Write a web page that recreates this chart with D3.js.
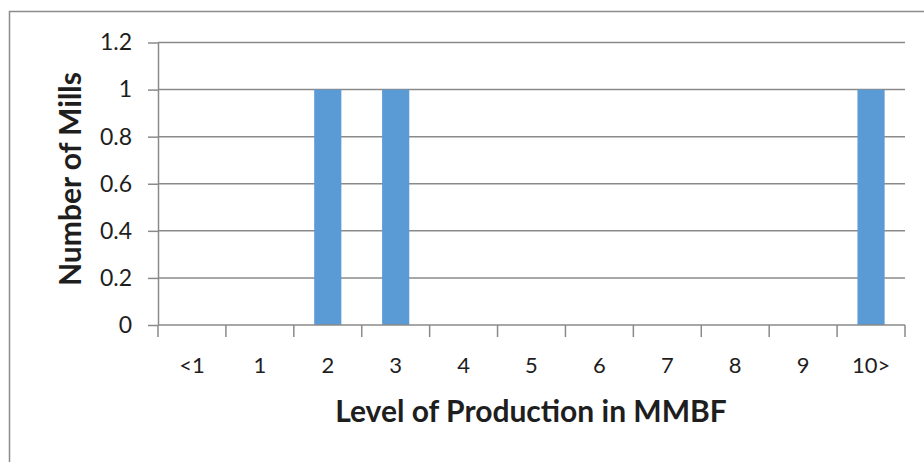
<!DOCTYPE html>
<html>
<head>
<meta charset="utf-8">
<script src="https://cdn.jsdelivr.net/npm/d3@7"></script>
<style>
  html, body { margin: 0; padding: 0; background: #fff; }
  svg { display: block; }
  text { font-family: Lato, "Open Sans", sans-serif; fill: #1e1e1e; }
</style>
</head>
<body>
<svg id="chart" width="924" height="462"></svg>
<script>
// Mills by level of production (MMBF)
const categories = ["<1", "1", "2", "3", "4", "5", "6", "7", "8", "9", "10>"];
const mills = [0, 0, 1, 1, 0, 0, 0, 0, 0, 0, 1];
const yTicks = [0, 0.2, 0.4, 0.6, 0.8, 1, 1.2];
const xTitle = "Level of Production in MMBF";
const yTitle = "Number of Mills";

const svg = d3.select("#chart");
const W = 924, H = 462;
const plot = { left: 158, right: 905, top: 42.5, bottom: 325 };

// outer chart frame
svg.append("rect")
  .attr("x", 9.5).attr("y", 11.5)
  .attr("width", W + 20).attr("height", H + 20)
  .attr("fill", "none").attr("stroke", "#8c8c8c").attr("stroke-width", 1.5);

const x = d3.scaleBand()
  .domain(categories)
  .range([plot.left, plot.right])
  .paddingInner(0).paddingOuter(0);

const y = d3.scaleLinear()
  .domain([0, 1.2])
  .range([plot.bottom, plot.top]);

// horizontal gridlines
svg.append("g")
  .selectAll("line")
  .data(yTicks.filter(d => d > 0))
  .join("line")
  .attr("x1", plot.left).attr("x2", plot.right)
  .attr("y1", d => y(d)).attr("y2", d => y(d))
  .attr("stroke", "#8a8a8a").attr("stroke-width", 1.5);

// bars: Excel-style 150% gap width
const barW = x.bandwidth() / 2.5;
svg.append("g")
  .selectAll("rect")
  .data(categories.map((c, i) => ({ c, v: mills[i] })).filter(d => d.v > 0))
  .join("rect")
  .attr("x", d => x(d.c) + (x.bandwidth() - barW) / 2)
  .attr("width", barW)
  .attr("y", d => y(d.v))
  .attr("height", d => y(0) - y(d.v))
  .attr("fill", "#5b9bd5");

// y axis
const yAxis = d3.axisLeft(y)
  .tickValues(yTicks)
  .tickFormat(d => d3.format("")(+d.toFixed(1)))
  .tickSizeInner(10).tickSizeOuter(0).tickPadding(16);
const gy = svg.append("g").attr("transform", `translate(${plot.left},0)`).call(yAxis);
gy.select(".domain").attr("stroke", "#8a8a8a").attr("stroke-width", 1.5);
gy.selectAll(".tick line").attr("stroke", "#8a8a8a").attr("stroke-width", 1.5);
gy.selectAll(".tick text").attr("font-size", 23).attr("fill", "#1e1e1e")
  .style("font-family", "Lato, 'Open Sans', sans-serif");

// x axis: ticks sit on category boundaries
const gx = svg.append("g").attr("transform", `translate(0,${plot.bottom})`);
gx.append("line")
  .attr("x1", plot.left).attr("x2", plot.right)
  .attr("stroke", "#8a8a8a").attr("stroke-width", 1.5);
const bounds = categories.map(c => x(c)).concat([x(categories[categories.length - 1]) + x.bandwidth()]);
gx.selectAll("line.tk")
  .data(bounds)
  .join("line")
  .attr("class", "tk")
  .attr("x1", d => d).attr("x2", d => d)
  .attr("y1", 0).attr("y2", 12)
  .attr("stroke", "#8a8a8a").attr("stroke-width", 1.5);
gx.selectAll("text")
  .data(categories)
  .join("text")
  .attr("x", d => x(d) + x.bandwidth() / 2)
  .attr("y", 40)
  .attr("dy", "0.35em")
  .attr("text-anchor", "middle")
  .attr("font-size", 22)
  .text(d => d);

// axis titles
svg.append("text")
  .attr("x", 531).attr("y", 411)
  .attr("dy", "0.35em")
  .attr("text-anchor", "middle")
  .attr("font-size", 30).attr("font-weight", "bold")
  .text(xTitle);

svg.append("text")
  .attr("transform", "translate(70,179) rotate(-90)")
  .attr("dy", "0.35em")
  .attr("text-anchor", "middle")
  .attr("font-size", 30).attr("font-weight", "bold")
  .text(yTitle);
</script>
</body>
</html>
